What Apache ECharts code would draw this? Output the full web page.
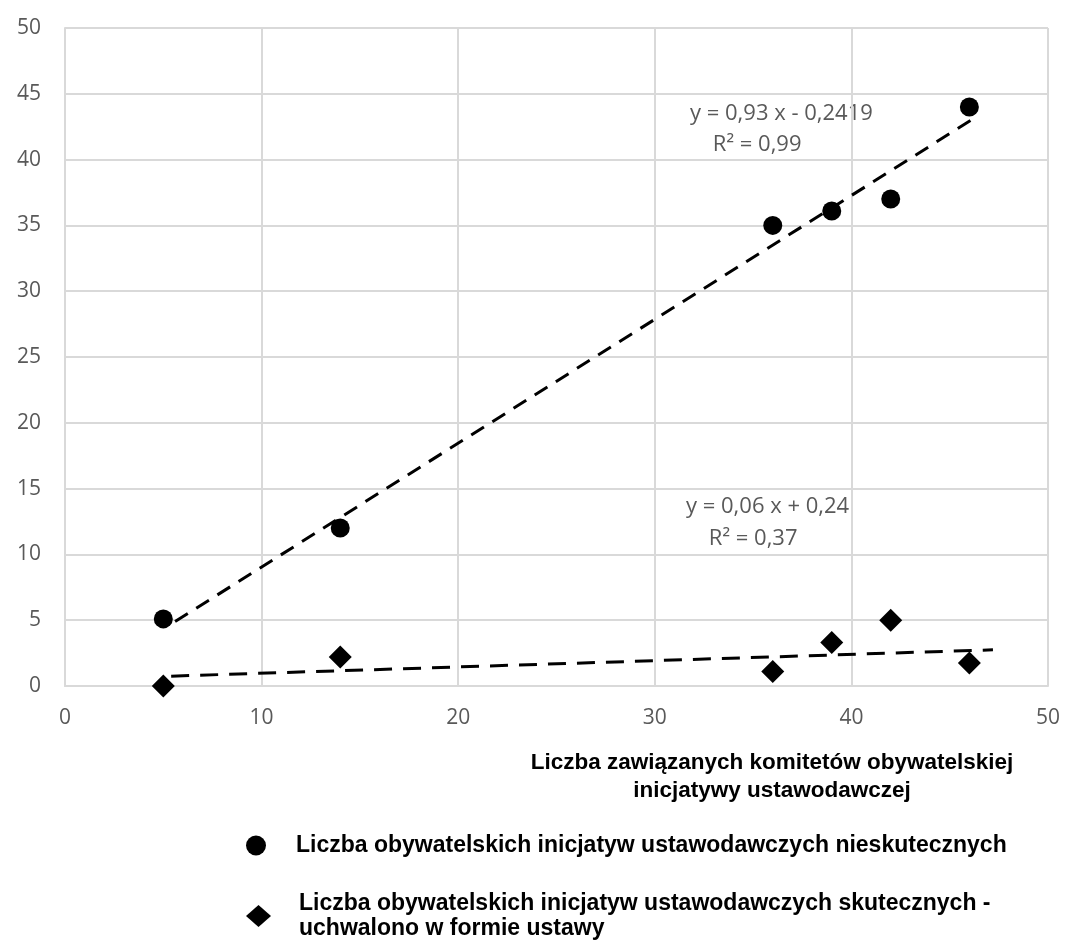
<!DOCTYPE html>
<html>
<head>
<meta charset="utf-8">
<script src="https://cdn.jsdelivr.net/npm/echarts@6/dist/echarts.min.js"></script>
<style>
  html, body { margin: 0; padding: 0; background: #fff; }
  #chart { width: 1067px; height: 940px; }
</style>
</head>
<body>
<div id="chart"></div>
<script>
// komitety (x) i inicjatywy (y)
var xValues = [5, 14, 36, 39, 42, 46];
var nieskuteczne = [5.1, 12, 35, 36.1, 37, 44];
var skuteczne = [0, 2.2, 1.1, 3.3, 5, 1.75];

// linie trendu (początek, koniec)
var trendNieskuteczne = [[5.6, 4.9], [46.3, 43.2]];
var trendSkuteczne = [[5.4, 0.75], [47.2, 2.75]];

var seriesNames = [
  "Liczba obywatelskich inicjatyw ustawodawczych nieskutecznych",
  "Liczba obywatelskich inicjatyw ustawodawczych skutecznych -\nuchwalono w formie ustawy"
];
var xTitle = "Liczba zawiązanych komitetów obywatelskiej\ninicjatywy ustawodawczej";

function pairs(xs, ys) {
  var out = [];
  for (var i = 0; i < xs.length; i++) {
    out.push([xs[i], ys[i]]);
  }
  return out;
}

var myChart = echarts.init(document.getElementById("chart"));

var labelFont = "'Open Sans', 'Liberation Sans', sans-serif";
var boldFont = "'Liberation Sans', Arial, sans-serif";

var legendText = {
  color: "#000",
  fontSize: 23,
  fontWeight: "bold",
  fontFamily: boldFont,
  lineHeight: 25,
  padding: [0, 0, 0, 23]
};

var option = {
  animation: false,
  backgroundColor: "#fff",
  grid: {
    left: 65,
    right: 19,
    top: 28,
    bottom: 254,
    containLabel: false,
    outerBoundsMode: "none"
  },
  xAxis: {
    type: "value",
    min: 0,
    max: 50,
    interval: 10,
    axisLine: { show: true, lineStyle: { color: "#d9d9d9", width: 2 } },
    axisTick: { show: false },
    axisLabel: {
      color: "#595959",
      fontSize: 21,
      fontFamily: labelFont,
      margin: 22
    },
    splitLine: { show: true, lineStyle: { color: "#d9d9d9", width: 2 } }
  },
  yAxis: {
    type: "value",
    min: 0,
    max: 50,
    interval: 5,
    axisLine: { show: true, lineStyle: { color: "#d9d9d9", width: 2 } },
    axisTick: { show: false },
    axisLabel: {
      color: "#595959",
      fontSize: 21,
      fontFamily: labelFont,
      margin: 24
    },
    splitLine: { show: true, lineStyle: { color: "#d9d9d9", width: 2 } }
  },
  legend: [
    {
      left: 246,
      top: 833,
      padding: 0,
      itemWidth: 24,
      itemHeight: 20,
      data: [{ name: seriesNames[0], icon: "circle" }],
      textStyle: legendText
    },
    {
      left: 246,
      top: 891,
      padding: 0,
      itemWidth: 25,
      itemHeight: 22,
      data: [{ name: seriesNames[1], icon: "diamond" }],
      textStyle: legendText
    }
  ],
  graphic: [
    {
      type: "text",
      x: 772,
      y: 749,
      style: {
        text: xTitle,
        fill: "#000",
        font: "bold 22.5px " + boldFont,
        align: "center",
        lineHeight: 28
      }
    },
    {
      type: "text",
      left: 690,
      top: 98,
      style: {
        text: "y = 0,93 x - 0,2419\n    R² = 0,99",
        fill: "#595959",
        font: "22px 'Open Sans', sans-serif",
        lineHeight: 31
      }
    },
    {
      type: "text",
      left: 686,
      top: 491,
      style: {
        text: "y = 0,06 x + 0,24\n    R² = 0,37",
        fill: "#595959",
        font: "22px 'Open Sans', sans-serif",
        lineHeight: 32
      }
    }
  ],
  series: [
    {
      name: "trend1",
      type: "line",
      data: trendNieskuteczne,
      symbol: "none",
      silent: true,
      lineStyle: { color: "#000", width: 3, type: [15, 10] },
      z: 2
    },
    {
      name: "trend2",
      type: "line",
      data: trendSkuteczne,
      symbol: "none",
      silent: true,
      lineStyle: { color: "#000", width: 3, type: [18, 11] },
      z: 2
    },
    {
      name: seriesNames[0],
      type: "scatter",
      data: pairs(xValues, nieskuteczne),
      symbol: "circle",
      symbolSize: 19,
      itemStyle: { color: "#000", opacity: 1 },
      z: 3
    },
    {
      name: seriesNames[1],
      type: "scatter",
      data: pairs(xValues, skuteczne),
      symbol: "diamond",
      symbolSize: [23, 23],
      itemStyle: { color: "#000", opacity: 1 },
      z: 3
    }
  ]
};

myChart.setOption(option);
window.addEventListener("resize", function () {
  myChart.resize();
});
</script>
</body>
</html>
